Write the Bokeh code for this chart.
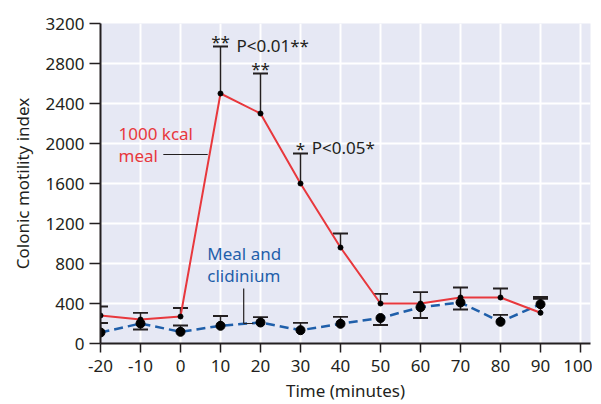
from bokeh.plotting import figure
from bokeh.models import FixedTicker, Range1d
from bokeh.core.properties import value
from bokeh.embed import file_html
from bokeh.resources import INLINE

# ---- data ----
time = [-20, -10, 0, 10, 20, 30, 40, 50, 60, 70, 80, 90]
meal = [280, 240, 270, 2500, 2300, 1600, 960, 400, 400, 460, 460, 307]
meal_upper = [370, None, 355, 2970, 2700, 1900, 1100, 497, None, 560, 550, 447]
clid = [110, 200, 117, 177, 210, 133, 197, 255, 363, 410, 217, 393]
clid_upper = [205, 307, 180, 275, 263, 207, 267, None, 513, None, 287, 465]
clid_lower = [None, 140, None, None, None, None, None, 185, 255, 340, None, None]

x_ticks = [-20, -10, 0, 10, 20, 30, 40, 50, 60, 70, 80, 90, 100]
x_tick_labels = ["-20", "-10", "0", "10", "20", "30", "40", "50", "60", "70", "80", "90", "100"]
y_ticks = [0, 400, 800, 1200, 1600, 2000, 2400, 2800, 3200]
y_tick_labels = ["0", "400", "800", "1200", "1600", "2000", "2400", "2800", "3200"]

sig_x = [10, 20, 30]
sig_marks = ["**", "**", "*"]
sig_tops = [2970, 2700, 1900]
p_texts = ["P<0.01**", "P<0.05*"]
p_x = [14, 32.8]
p_y = [2976, 1956]

RED = "#E8383D"
BLUE = "#1F5FAA"
INK = "#231F20"
FONT = "Noto Sans"

p = figure(width=592, height=404, x_range=Range1d(-20, 102.5), y_range=Range1d(0, 3200),
           output_backend="svg", toolbar_location=None,
           min_border_left=100, min_border_right=2, min_border_top=23, min_border_bottom=61)
p.outline_line_color = None
p.background_fill_color = "#E6E8F4"
p.border_fill_color = "white"

for ax in (p.xaxis, p.yaxis):
    ax.axis_line_color = INK
    ax.axis_line_width = 2
    ax.major_tick_line_color = INK
    ax.major_tick_line_width = 1.5
    ax.major_tick_in = 0
    ax.minor_tick_line_color = None
    ax.major_label_text_font = FONT
    ax.major_label_text_font_size = "17px"
    ax.major_label_text_color = INK
    ax.axis_label_text_font = FONT
    ax.axis_label_text_font_size = "17px"
    ax.axis_label_text_font_style = "normal"
    ax.axis_label_text_color = INK

p.xaxis.ticker = FixedTicker(ticks=x_ticks)
p.xaxis.major_label_overrides = dict(zip(x_ticks, x_tick_labels))
p.xaxis.major_tick_out = 9
p.xaxis.major_label_standoff = 7
p.xaxis.axis_label = "Time (minutes)"
p.xaxis.axis_label_standoff = 4

p.yaxis.ticker = FixedTicker(ticks=y_ticks)
p.yaxis.major_label_overrides = dict(zip(y_ticks, y_tick_labels))
p.yaxis.major_tick_out = 11
p.yaxis.major_label_standoff = 5
p.yaxis.axis_label = "Colonic motility index"
p.yaxis.axis_label_standoff = 9

p.xgrid.ticker = FixedTicker(ticks=x_ticks)
p.ygrid.ticker = FixedTicker(ticks=y_ticks)
p.grid.grid_line_color = "white"
p.grid.grid_line_width = 2

# ---- error bars ----
def bars(xs, ys, tops):
    x0, y0, y1 = [], [], []
    for x, y, t in zip(xs, ys, tops):
        if t is not None:
            x0.append(x); y0.append(y); y1.append(t)
    return x0, y0, y1

for ys, tops in ((meal, meal_upper), (clid, clid_upper), (clid, clid_lower)):
    bx, by0, by1 = bars(time, ys, tops)
    p.segment(x0=bx, y0=by0, x1=bx, y1=by1, line_color=INK, line_width=1.5)
    p.scatter(x=bx, y=by1, marker="dash", size=15, line_color=INK, line_width=1.8)

# ---- series ----
p.line(time, clid, line_color=BLUE, line_width=2.5, line_dash="9 5")
p.line(time, meal, line_color=RED, line_width=2)
p.scatter(time, clid, size=9, fill_color="black", line_color="black")
p.scatter(time, meal, size=5, fill_color="black", line_color="black")

# ---- annotations ----
p.text(x=sig_x, y=sig_tops, text=sig_marks, text_font=value(FONT), text_font_size="17px",
       text_color=INK, text_align="center", text_baseline="bottom", y_offset=6)
p.text(x=p_x, y=p_y, text=p_texts, text_font=value(FONT), text_font_size="17px",
       text_color=INK, text_align="left", text_baseline="middle")

p.text(x=[-15.5, -15.5], y=[2103, 1883], text=["1000 kcal", "meal"], text_font=value(FONT),
       text_font_size="17px", text_color=RED, text_align="left", text_baseline="middle")
p.segment(x0=[-4.3], y0=[1890], x1=[6.8], y1=[1890], line_color=INK, line_width=1.2)

p.text(x=[6.7, 6.7], y=[900, 683], text=["Meal and", "clidinium"], text_font=value(FONT),
       text_font_size="17px", text_color=BLUE, text_align="left", text_baseline="middle")
p.segment(x0=[15.8, 15.8], y0=[550, 200], x1=[15.8, 18.2], y1=[200, 200], line_color=INK, line_width=1.2)

open("out.html", "w").write(file_html(p, INLINE))
